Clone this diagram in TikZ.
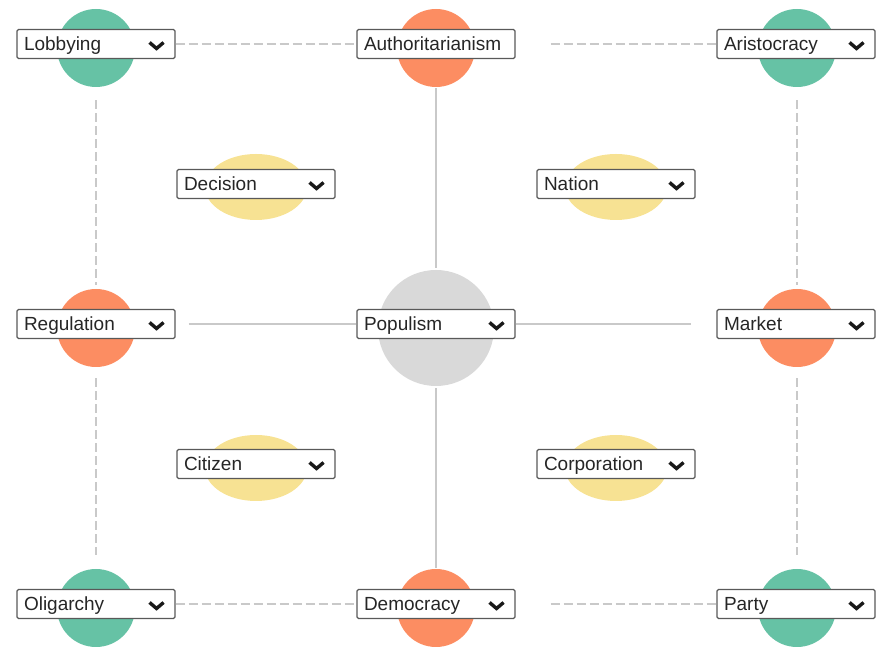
\documentclass[tikz,border=0pt]{standalone}
\usepackage{fontspec}
\setmainfont{Liberation Sans}
\usetikzlibrary{positioning,calc,shapes.geometric}

\definecolor{setteal}{HTML}{66C2A5}
\definecolor{setsalmon}{HTML}{FC8D62}
\definecolor{setyellow}{HTML}{F7E293}
\definecolor{hubgray}{HTML}{D9D9D9}
\definecolor{linegray}{HTML}{C9C9C9}

\tikzset{
    dot/.style={circle, minimum size=78pt, inner sep=0pt},
    hub/.style={circle, fill=hubgray, minimum size=116pt, inner sep=0pt},
    blob/.style={ellipse, fill=setyellow, minimum width=102pt, minimum height=66pt, inner sep=0pt},
    selbox/.style={draw=black!65, line width=1.1pt, rounded corners=1.5pt, fill=white,
        text width=144pt, align=left, inner xsep=7pt, inner ysep=0pt, minimum height=29pt,
        text height=17pt, text depth=4pt, text=black!85, font=\fontsize{19}{22}\selectfont},
    chev/.style={line width=3.4pt, line join=miter, black!90},
    frame/.style={draw=linegray, line width=1.2pt, dash pattern=on 9pt off 4pt},
    spoke/.style={draw=linegray, line width=2.5pt}
}

\begin{document}
\begin{tikzpicture}[x=1pt, y=1pt]
    \useasboundingbox (0,0) rectangle (876,650);

    % Outer circles
    \foreach \name/\x/\y/\col in {lob/96/602/setteal, aut/436/602/setsalmon, ari/797/602/setteal,
        reg/96/322/setsalmon, mar/797/322/setsalmon,
        oli/96/42/setteal, dem/436/42/setsalmon, par/797/42/setteal} {
        \node[dot, fill=\col] (\name-c) at (\x,\y) {};
    }

    % Center circle
    \node[hub] (pop-c) at (436,322) {};

    % Ellipses
    \foreach \name/\x/\y in {dec/256/463, nat/616/463, cit/256/182, cor/616/182} {
        \node[blob] (\name-e) at (\x,\y) {};
    }

    % Select boxes
    \foreach \name/\x/\y/\label in {lob/96/606/Lobbying, aut/436/606/Authoritarianism, ari/796/606/Aristocracy,
        dec/256/466/Decision, nat/616/466/Nation,
        reg/96/326/Regulation, pop/436/326/Populism, mar/796/326/Market,
        cit/256/186/Citizen, cor/616/186/Corporation,
        oli/96/46/Oligarchy, dem/436/46/Democracy, par/796/46/Party} {
        \node[selbox] (\name) at (\x,\y) {\label};
    }

    % Chevrons
    \foreach \name in {lob, ari, dec, nat, reg, pop, mar, cit, cor, oli, dem, par} {
        \draw[chev] ([shift={(-26,1.5)}]\name.east) -- ++(7,-6) -- ++(7,6);
    }

    % Dashed frame
    \draw[frame] (lob.east) -- (aut.west);
    \draw[frame, shorten <=35pt] (aut.east) -- (ari.west);
    \draw[frame] (oli.east) -- (dem.west);
    \draw[frame, shorten <=35pt] (dem.east) -- (par.west);
    \draw[frame, shorten <=13pt, shorten >=4pt] (lob-c.south) -- (reg-c.north);
    \draw[frame, shorten <=11pt, shorten >=14pt] (reg-c.south) -- (oli-c.north);
    \draw[frame, shorten <=13pt, shorten >=4pt] (ari-c.south) -- (mar-c.north);
    \draw[frame, shorten <=11pt, shorten >=14pt] (mar-c.south) -- (par-c.north);

    % Spokes
    \draw[spoke, shorten <=1pt, shorten >=2pt] (aut-c.south) -- (pop-c.north);
    \draw[spoke, shorten <=2pt, shorten >=1pt] (pop-c.south) -- (dem-c.north);
    \draw[spoke, shorten <=13pt] (reg.east) -- (pop.west);
    \draw[spoke, shorten >=25pt] (pop.east) -- (mar.west);
\end{tikzpicture}
\end{document}
